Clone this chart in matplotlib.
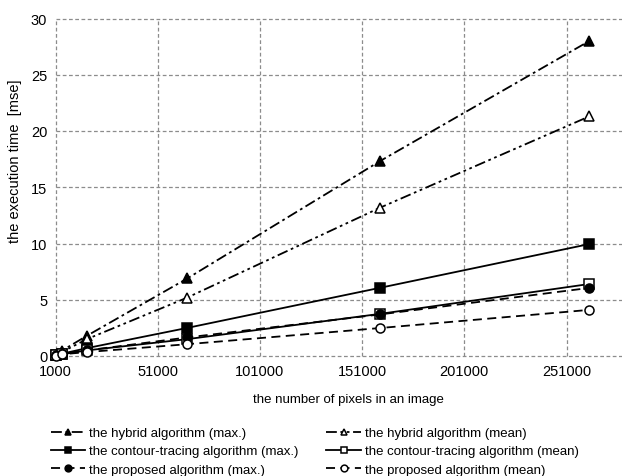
import matplotlib
matplotlib.use("Agg")
import matplotlib.pyplot as plt

plt.rcParams['font.family'] = ['Liberation Sans', 'DejaVu Sans']

pixels = [1024, 4096, 16384, 65536, 160000, 262144]
hybrid_max = [0.1, 0.47, 1.8, 6.9, 17.35, 28.0]
hybrid_mean = [0.05, 0.35, 1.5, 5.2, 13.2, 21.3]
contour_max = [0.05, 0.2, 0.7, 2.5, 6.07, 9.95]
contour_mean = [0.05, 0.15, 0.5, 1.5, 3.75, 6.4]
proposed_max = [0.05, 0.2, 0.5, 1.65, 3.7, 6.05]
proposed_mean = [0.03, 0.15, 0.35, 1.05, 2.49, 4.1]

labels = ["the hybrid algorithm (max.)", "the hybrid algorithm (mean)",
          "the contour-tracing algorithm (max.)", "the contour-tracing algorithm (mean)",
          "the proposed algorithm (max.)", "the proposed algorithm (mean)"]
xticks = [1000, 51000, 101000, 151000, 201000, 251000]
yticks = [0, 5, 10, 15, 20, 25, 30]

fig = plt.figure(figsize=(6.22, 4.77), dpi=100)
ax = fig.add_axes([55.5/622, 1-357/477, 1-55.5/622, (357-19.5)/477])

styles = [
    (hybrid_max, (0, (6, 2, 1.5, 2)), '^', 'black'),
    (hybrid_mean, (0, (6, 2, 1.5, 2, 1.5, 2)), '^', 'white'),
    (contour_max, '-', 's', 'black'),
    (contour_mean, '-', 's', 'white'),
    (proposed_max, (0, (5, 3)), 'o', 'black'),
    (proposed_mean, (0, (5, 3)), 'o', 'white'),
]
handles = []
for (vals, ls, mk, fc), lab in zip(styles, labels):
    h, = ax.plot(pixels, vals, color='black', linestyle=ls, linewidth=1.3,
                 marker=mk, markersize=6.5, markerfacecolor=fc,
                 markeredgecolor='black', markeredgewidth=1.1, label=lab,
                 clip_on=False, zorder=3)
    handles.append(h)

ax.set_xlim(1000, 1000 + (622-55.5)/102.2*50000)
ax.set_ylim(0, 30)
ax.set_xticks(xticks)
ax.set_yticks(yticks)
ax.set_xticklabels([str(v) for v in xticks])
for s in ax.spines.values():
    s.set_visible(False)
ax.grid(True, color='#8c8c8c', linestyle=(0, (3, 2)), linewidth=0.9)
ax.set_axisbelow(True)
ax.tick_params(length=0, labelsize=10.5, pad=6)
for g in ax.get_xgridlines() + ax.get_ygridlines():
    g.set_clip_on(False)

fig.text(15/622, 1-161/477, "the execution time  [mse]", rotation=90,
         ha='center', va='center', fontsize=10.5)
fig.text(348/622, 1-400/477, "the number of pixels in an image",
         ha='center', va='center', fontsize=9.5)

order = [0, 2, 4, 1, 3, 5]
fig.legend([handles[i] for i in order], [labels[i] for i in order],
           ncol=2, loc='upper left', bbox_to_anchor=(51/622, 1-428/477),
           frameon=False, fontsize=9.5, borderpad=0,
           handlelength=2.6, handletextpad=0.3, markerscale=0.75,
           columnspacing=2.1, labelspacing=0.45, borderaxespad=0)

fig.savefig("out.png", dpi=100)
